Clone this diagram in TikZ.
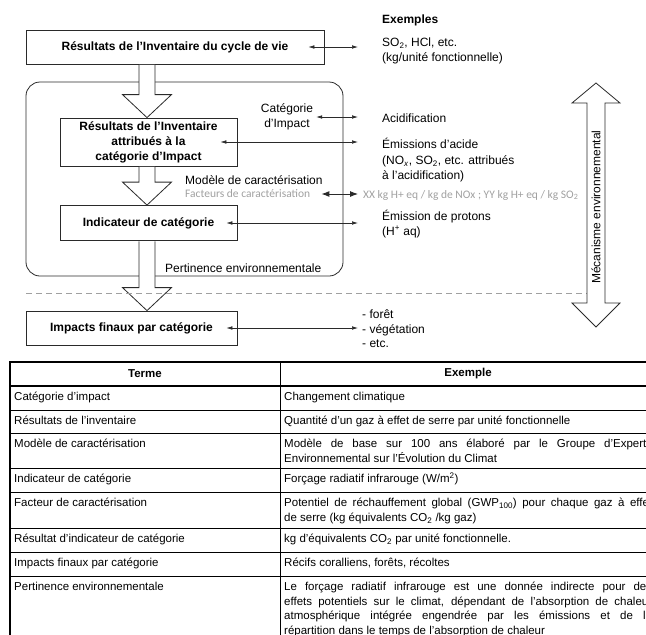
\documentclass[tikz,border=0pt]{standalone}
\usepackage{fontspec}
\setmainfont{Liberation Sans}
\newfontfamily\calibfont{Carlito}
\usetikzlibrary{arrows.meta,calc}

\definecolor{gris}{HTML}{A0A0A0}
\definecolor{trait}{HTML}{2A2A2A}

\tikzset{
	box/.style={draw=trait, line width=0.8pt, align=center, inner sep=0pt, font=\fontsize{12}{15}\selectfont\bfseries},
	lab/.style={anchor=west, inner sep=0pt, align=left, font=\fontsize{12}{14.5}\selectfont},
	greylab/.style={anchor=west, inner sep=0pt, text=gris, font=\fontsize{11.5}{12}\selectfont\calibfont},
	dbl/.style={{Latex[length=6pt,width=3.6pt]}-{Latex[length=6pt,width=3.6pt]}, line width=0.6pt, draw=trait},
	hollow/.style={draw=trait, fill=white, line width=0.8pt},
	cell/.style={anchor=north west, inner sep=0pt, align=left, font=\fontsize{11.5}{14.5}\selectfont},
	head/.style={inner sep=0pt, font=\fontsize{11.5}{12}\selectfont\bfseries},
	thick rule/.style={line width=1.7pt},
	thin rule/.style={line width=0.7pt}
}

% fleche creuse entre deux boites
\newcommand{\hollowdown}[2]{%
	\draw[hollow] let \p1=(#1.south), \p2=(#2.north), \p3=(col) in
		(\x3-8pt,\y1-0.4pt) -- (\x3-8pt,\y2+23pt) -- (\x3-24.5pt,\y2+23pt) -- (\x3,\y2)
		-- (\x3+24.5pt,\y2+23pt) -- (\x3+8pt,\y2+23pt) -- (\x3+8pt,\y1-0.4pt);}

\begin{document}
\begin{tikzpicture}[x=1pt,y=-1pt]
	\useasboundingbox (0,0) rectangle (646,635);
	\clip (0,0) rectangle (646,635);
	\coordinate (col) at (147,0);
	\coordinate (rt) at (358,0);

	% schema
	\node[draw=trait, line width=0.8pt, rounded corners=14pt, minimum width=317pt, minimum height=194pt, inner sep=0pt] (lcia) at (184.5,179) {};
	\node[box, minimum width=298pt, minimum height=34pt] (inv) at (175,47) {Résultats de l'Inventaire du cycle de vie};
	\node[box, minimum width=177pt, minimum height=48pt] (attr) at (148.5,142) {Résultats de l'Inventaire\\attribués à la\\catégorie d'Impact};
	\node[box, minimum width=177pt, minimum height=35pt] (ind) at (148.5,223) {Indicateur de catégorie};
	\node[box, minimum width=211pt, minimum height=34pt] (final) at (131.5,328) {Impacts finaux par catégorie};

	\hollowdown{inv}{attr}
	\hollowdown{attr}{ind}
	\hollowdown{ind}{final}
	\draw[gris, line width=0.8pt, dash pattern=on 6pt off 4pt] (26,293) -- (587,293);

	\node[lab, align=center, anchor=center] (categ) at (287,117) {Catégorie\\d'Impact};
	\node[lab] (model) at (185,180) {Modèle de caractérisation};
	\node[greylab] (fact) at (185,194) {Facteurs de caractérisation};
	\node[lab] (pert) at (165,268) {Pertinence environnementale};

	\node[lab, font=\fontsize{12}{14.5}\selectfont\bfseries] (exemples) at (382,20) {Exemples};
	\node[lab] (ex-inv) at (382,51) {SO\textsubscript{2}, HCl, etc.\\(kg/unité fonctionnelle)};
	\node[lab] (ex-cat) at (382,118) {Acidification};
	\node[lab] (ex-attr) at (382,160) {Émissions d'acide\\[2pt](NO\textsubscript{\textit{x}}, SO\textsubscript{2}, etc. attribués\\à l'acidification)};
	\node[greylab] (ex-fact) at (363,195) {XX kg H+ eq / kg de NOx ; YY kg H+ eq / kg SO\textsubscript{2}};
	\node[lab] (ex-ind) at (382,224) {Émission de protons\\(H\textsuperscript{+} aq)};
	\node[lab] (ex-final) at (362,329) {- forêt\\- végétation\\- etc.};

	\draw[dbl] ([xshift=-16pt]inv.east) -- (inv.east -| rt);
	\draw[dbl] ([xshift=3pt]categ.east) -- (categ.east -| rt);
	\draw[dbl] ([xshift=-17pt]attr.east) -- (attr.east -| rt);
	\draw[dbl, line width=0.9pt, {Latex[length=8pt,width=6pt]}-{Latex[length=8pt,width=6pt]}] ([xshift=11pt]fact.east) -- (fact.east -| rt);
	\draw[dbl] ([xshift=-11pt]ind.east) -- (ind.east -| rt);
	\draw[dbl] ([xshift=-11pt]final.east) -- (final.east -| rt);

	\draw[hollow] (596,83) -- (620,103) -- (605,103) -- (605,303) -- (620,303) -- (596,327)
		-- (572,303) -- (587,303) -- (587,103) -- (572,103) -- cycle;
	\node[rotate=90, inner sep=0pt, font=\fontsize{12}{14}\selectfont] (meca) at (596,207) {Mécanisme environnemental};

	% tableau
	\draw[thick rule] (9,362) -- (660,362);
	\draw[thick rule] (9,386) -- (660,386);
	\foreach \y in {410,433,468,492,528,552,576}
		\draw[thin rule] (10,\y) -- (660,\y);
	\draw[line width=2pt] (10,361) -- (10,640);
	\draw[thin rule] (280,362) -- (280,640);

	\node[head] (h-terme) at (145,374) {Terme};
	\node[head] (h-ex) at (468,374) {Exemple};

	\node[cell] (t-cat) at (14,390.5) {\strut Catégorie d'impact};
	\node[cell] (t-inv) at (14,414.5) {\strut Résultats de l'inventaire};
	\node[cell] (t-mod) at (14,437.5) {\strut Modèle de caractérisation};
	\node[cell] (t-ind) at (14,472.5) {\strut Indicateur de catégorie};
	\node[cell] (t-fac) at (14,496.5) {\strut Facteur de caractérisation};
	\node[cell] (t-res) at (14,532.5) {\strut Résultat d'indicateur de catégorie};
	\node[cell] (t-fin) at (14,556.5) {\strut Impacts finaux par catégorie};
	\node[cell] (t-per) at (14,580.5) {\strut Pertinence environnementale};

	\node[cell] (e-cat) at (284,390.5) {\strut Changement climatique};
	\node[cell] (e-inv) at (284,414.5) {\strut Quantité d'un gaz à effet de serre par unité fonctionnelle};
	\node[cell] (e-mod) at (284,437.5) {\strut\makebox[368pt][s]{Modèle de base sur 100 ans élaboré par le Groupe d'Experts}\\Environnemental sur l'Évolution du Climat};
	\node[cell] (e-ind) at (284,472.5) {\strut Forçage radiatif infrarouge (W/m\textsuperscript{2})};
	\node[cell] (e-fac) at (284,496.5) {\strut\makebox[368pt][s]{Potentiel de réchauffement global (GWP\textsubscript{100}) pour chaque gaz à effet}\\de serre (kg équivalents CO\textsubscript{2} /kg gaz)};
	\node[cell] (e-res) at (284,532.5) {\strut kg d'équivalents CO\textsubscript{2} par unité fonctionnelle.};
	\node[cell] (e-fin) at (284,556.5) {\strut Récifs coralliens, forêts, récoltes};
	\node[cell] (e-per) at (284,580.5) {\strut\makebox[368pt][s]{Le forçage radiatif infrarouge est une donnée indirecte pour des}\\\makebox[368pt][s]{effets potentiels sur le climat, dépendant de l'absorption de chaleur}\\\makebox[368pt][s]{atmosphérique intégrée engendrée par les émissions et de la}\\répartition dans le temps de l'absorption de chaleur};
\end{tikzpicture}
\end{document}
